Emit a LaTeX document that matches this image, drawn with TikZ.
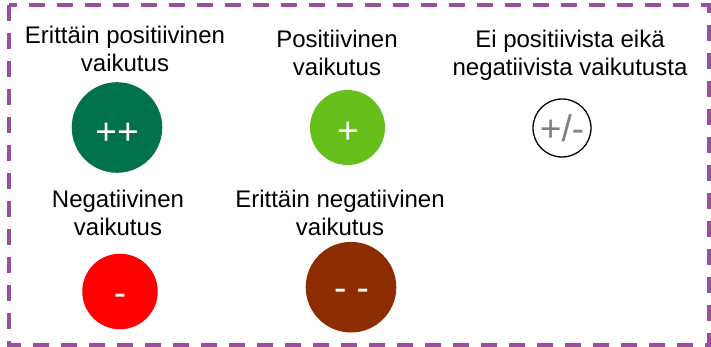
\documentclass[tikz,border=0pt]{standalone}
\usepackage{fontspec}
\setmainfont{Liberation Sans}
\definecolor{darkgreen}{RGB}{0,115,74}
\definecolor{lightgreen}{RGB}{102,191,26}
\definecolor{brightred}{RGB}{255,0,0}
\definecolor{brown}{RGB}{139,45,0}
\definecolor{framepurple}{RGB}{155,78,160}
\definecolor{symgray}{RGB}{128,128,128}
\begin{document}
\begin{tikzpicture}[x=1pt,y=-1pt,
  lbl/.style={align=center, anchor=north, inner sep=0pt, font=\fontsize{24}{28}\selectfont},
  dot/.style={circle, inner sep=0pt, draw=none},
  sym/.style={anchor=base, inner sep=0pt, font=\fontsize{37}{40}\selectfont, text=white},
  frame/.style={draw=framepurple, line width=4.3pt, dash pattern=on 16pt off 12pt}]
\useasboundingbox (0,0) rectangle (711,347);
\draw[frame] (9,4.7) rectangle (709,344.7);

% labels
\node[lbl] (l1) at (125,26) {Erittäin positiivinen\\vaikutus};
\node[lbl] (l2) at (337,30) {Positiivinen\\vaikutus};
\node[lbl] (l3) at (570,30) {Ei positiivista eikä\\negatiivista vaikutusta};
\node[lbl] (l4) at (118,190) {Negatiivinen\\vaikutus};
\node[lbl] (l5) at (340,190) {Erittäin negatiivinen\\vaikutus};

% circles
\node[dot, fill=darkgreen, minimum size=90.6pt] (c1) at (117,127.5) {};
\node[dot, fill=lightgreen, minimum size=75pt] (c2) at (347.5,127.5) {};
\node[dot, fill=white, draw=black, line width=1.3pt, minimum size=58pt] (c3) at (562,128) {};
\node[dot, fill=brightred, minimum size=75.5pt] (c4) at (120,291.5) {};
\node[dot, fill=brown, minimum size=90.6pt] (c5) at (351,287.2) {};

% symbols
\node[sym] (s1) at (117,145) {++};
\node[sym] (s2) at (348,144) {+};
\node[sym, text=symgray] (s3) at (562,141.5) {+/-};
\node[sym] (s4) at (120,305) {-};
\node[sym] (s5) at (351.5,300.5) {- -};
\end{tikzpicture}
\end{document}
